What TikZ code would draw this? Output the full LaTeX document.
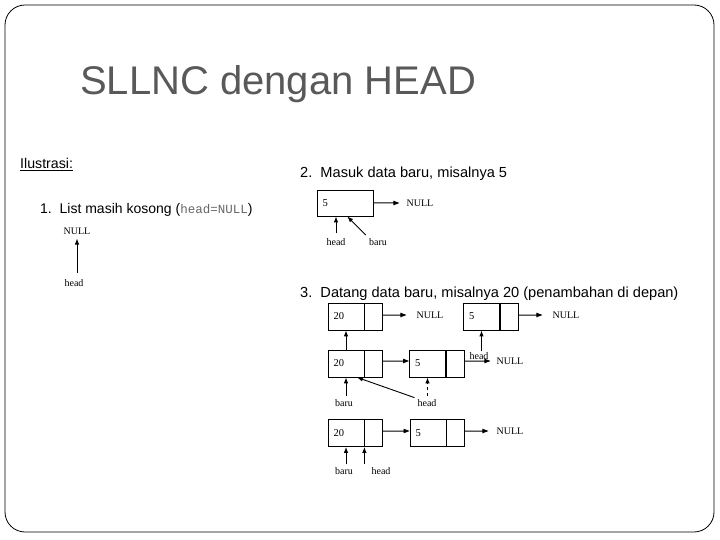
\documentclass[tikz,border=0pt]{standalone}
\usepackage{fontspec}
\setmainfont{Liberation Serif}
\setsansfont{Liberation Sans}
\setmonofont{Liberation Mono}
\usetikzlibrary{arrows.meta,positioning,calc}
\definecolor{titlegray}{RGB}{89,89,89}

\tikzset{
	ptr/.style={-{Latex[length=6pt,width=4.5pt]}, line width=0.9pt},
	hlink/.style={to path={-- ($(\tikztostart)+(0,0.5pt)$) -- ($(\tikztotarget)+(-6pt,0.5pt)$)
		-- ($(\tikztotarget)+(-6pt,2.3pt)$) -- (\tikztotarget) -- ($(\tikztotarget)+(-6pt,-2.3pt)$)
		-- ($(\tikztotarget)+(-6pt,-0.5pt)$) -- ($(\tikztostart)+(0,-0.5pt)$) -- cycle}},
	datacell/.style={draw, line width=0.8pt, minimum height=27pt, text width=25pt, inner xsep=5.5pt, inner ysep=0pt, align=left, font=\fontsize{10.5}{12}\selectfont},
	linkcell/.style={draw, line width=0.8pt, minimum width=18pt, minimum height=27pt, inner sep=0pt},
	lbl/.style={font=\fontsize{10}{12}\selectfont, inner sep=1pt},
	stephead/.style={font=\sffamily\fontsize{14.6}{17}\selectfont, anchor=base west, inner sep=0pt},
}

\begin{document}
\begin{tikzpicture}[x=1pt, y=1pt]
		
		\useasboundingbox (0,0) rectangle (720,-540);
		
		% frame
		\draw[line width=0.8pt, rounded corners=20pt] (5,-5) rectangle (714,-532);
		
		% title
		\node[font=\sffamily\fontsize{40}{48}\selectfont, text=titlegray, anchor=base west, inner sep=0pt] (title) at (80,-95) {SLLNC dengan HEAD};
		
		% headings
		\node[font=\sffamily\fontsize{14.2}{17}\selectfont, anchor=base west, inner sep=0pt] (ilus) at (20,-169) {\underline{Ilustrasi:}};
		\node[font=\sffamily\fontsize{14}{17}\selectfont, anchor=base west, inner sep=0pt] (s1) at (40,-214) {1.\ \ List masih kosong ({\ttfamily\fontsize{12.5}{15}\selectfont\color{black!60}head=NULL})};
		\node[stephead] (s2) at (300,-178) {2.\ \ Masuk data baru, misalnya 5};
		\node[stephead] (s3) at (300,-297) {3.\ \ Datang data baru, misalnya 20 (penambahan di depan)};
		
		% step 1
		\node[lbl] (n1) at (77,-231) {NULL};
		\node[lbl] (h1) at (74,-283) {head};
		\draw[ptr, shorten <=5pt, shorten >=3pt] (h1.north -| n1) -- (n1.south);
		
		% step 2
		\node[datacell, text width=45pt, minimum height=26pt] (b5) at (345,-203) {5};
		\node[lbl] (n2) at (420,-203) {NULL};
		\coordinate (t2) at ([xshift=-6pt]n2.west);
		\fill (b5.east |- t2) to[hlink] (t2);
		\node[lbl] (h2) at (336,-242) {head};
		\node[lbl] (r2) at (378,-242) {baru};
		\draw[ptr, shorten <=4pt] (h2.north) -- (h2.north |- b5.south);
		\draw[ptr, shorten <=3pt] (r2.north west) -- ($(b5.south west)!0.54!(b5.south east)$);
		
		% step 3, first row
		\node[datacell] (a20) at (346,-316.5) {20};
		\node[linkcell, right=0pt of a20] (a20p) {};
		\node[lbl] (nA) at (430,-315) {NULL};
		\node[datacell] (a5) at (481.5,-316.5) {5};
		\node[linkcell, right=0pt of a5] (a5p) {};
		\node[lbl] (nB) at (566,-315) {NULL};
		\coordinate (tA) at ([xshift=-9pt]nA.west);
		\coordinate (tB) at ([xshift=-9pt]nB.west);
		\fill (a20p.east |- tA) to[hlink] (tA);
		\fill (a5p.east |- tB) to[hlink] (tB);
		
		% step 3, second row
		\node[datacell] (c20) at (346,-363.5) {20};
		\node[linkcell, right=0pt of c20] (c20p) {};
		\node[datacell] (c5) at (427.5,-363.5) {5};
		\node[linkcell, right=0pt of c5] (c5p) {};
		\node[lbl] (nC) at (510,-361) {NULL};
		\node[lbl] (hC) at (479,-356) {head};
		\coordinate (tC) at ([xshift=-5pt]nC.west);
		\draw[ptr] (c20.north) -- (a20.south);
		\fill (c20p.east |- nC) to[hlink] (c5.west |- nC);
		\fill (c5p.east |- tC) to[hlink] (tC);
		\draw[ptr] (hC.north -| a5) -- (a5.south);
		
		\node[lbl] (rC) at (344,-403) {baru};
		\node[lbl] (hD) at (427,-403) {head};
		\draw[ptr, shorten <=2pt] (rC.north -| c20) -- (c20.south);
		\draw[ptr, dashed, shorten <=2pt] (hD.north -| c5) -- (c5.south);
		\draw[ptr, shorten <=2pt] (hD.north west) -- ($(c20.south west)!0.8!(c20.south east)$);
		
		% step 3, third row
		\node[datacell] (e20) at (346,-433) {20};
		\node[linkcell, right=0pt of e20] (e20p) {};
		\node[datacell] (e5) at (428,-433) {5};
		\node[linkcell, right=0pt of e5] (e5p) {};
		\node[lbl] (nE) at (510,-431) {NULL};
		\coordinate (tE) at ([xshift=-7pt]nE.west);
		\fill (e20p.east |- nE) to[hlink] (e5.west |- nE);
		\fill (e5p.east |- tE) to[hlink] (tE);
		
		\node[lbl] (rE) at (344,-471) {baru};
		\node[lbl] (hE) at (381,-471) {head};
		\draw[ptr, shorten <=2pt] (rE.north -| e20) -- (e20.south);
		\draw[ptr, shorten <=2pt] (hE.north -| e20p.south west) -- (e20p.south west);
		
\end{tikzpicture}
\end{document}
